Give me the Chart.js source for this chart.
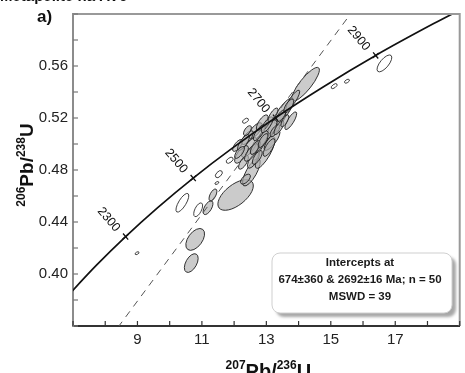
<!DOCTYPE html>
<html>
<head>
<meta charset="utf-8">
<script src="https://cdn.jsdelivr.net/npm/chart.js@4.4.1/dist/chart.umd.min.js"></script>
<style>
  html, body { margin: 0; padding: 0; background: #fff; }
  #wrap { width: 465px; height: 373px; }
</style>
</head>
<body>
<div id="wrap"><canvas id="myChart" width="465" height="373"></canvas></div>
<script>
// concordia curve (207Pb/235U, 206Pb/238U)
const concordiaAge = [2050, 2100, 2200, 2300, 2400, 2500, 2600, 2700, 2800, 2900, 3000, 3050];
const concordiaX = [6.530, 6.911, 7.729, 8.633, 9.629, 10.730, 11.944, 13.284, 14.762, 16.392, 18.194, 19.161];
const concordiaY = [0.3744, 0.3851, 0.4068, 0.4288, 0.4511, 0.4738, 0.4968, 0.5202, 0.5439, 0.5681, 0.5926, 0.6050];

// age ticks on the concordia
const ageMarks = ['2300', '2500', '2700', '2900'];
const ageMarkX = [8.633, 10.730, 13.284, 16.392];
const ageMarkY = [0.4288, 0.4738, 0.5202, 0.5681];

// discordia (lower intercept -> beyond upper intercept)
const discordiaX = [0.942, 16.0];
const discordiaY = [0.110, 0.613];

// grey error ellipses: centre, half-width (x), half-height (y), correlation
const greyX   = [14.217, 12.046, 12.535, 10.792, 10.670, 11.190, 11.343, 12.352, 13.544, 13.330, 13.820, 13.024, 12.780, 12.474, 12.229, 12.963, 12.657, 13.177, 12.413, 12.107, 12.872, 13.453, 13.697, 13.758, 12.596, 12.291, 13.269,
                 12.291, 12.535, 12.780, 13.024, 13.208, 12.657, 12.902, 12.413, 12.168, 13.391, 13.575, 13.086, 12.719];
const greyY   = [0.5460, 0.4608, 0.4783, 0.4266, 0.4084, 0.4510, 0.4608, 0.4730, 0.5255, 0.5163, 0.5338, 0.5087, 0.5011, 0.4973, 0.4920, 0.4935, 0.5103, 0.5027, 0.5049, 0.4989, 0.5163, 0.5217, 0.5293, 0.5179, 0.4875, 0.4859, 0.5103,
                 0.5011, 0.4935, 0.5087, 0.5148, 0.5224, 0.4973, 0.5027, 0.5103, 0.4935, 0.5125, 0.5179, 0.4973, 0.4897];
const greySX  = [0.428, 0.550, 0.275, 0.291, 0.214, 0.153, 0.122, 0.153, 0.306, 0.275, 0.214, 0.306, 0.275, 0.245, 0.214, 0.306, 0.214, 0.245, 0.183, 0.153, 0.183, 0.153, 0.153, 0.183, 0.183, 0.153, 0.153,
                 0.183, 0.214, 0.183, 0.183, 0.153, 0.153, 0.153, 0.122, 0.153, 0.153, 0.122, 0.183, 0.153];
const greySY  = [0.0129, 0.0118, 0.0106, 0.0084, 0.0072, 0.0053, 0.0046, 0.0038, 0.0099, 0.0084, 0.0076, 0.0099, 0.0091, 0.0076, 0.0068, 0.0122, 0.0061, 0.0076, 0.0053, 0.0046, 0.0061, 0.0046, 0.0053, 0.0068, 0.0061, 0.0053, 0.0046,
                 0.0061, 0.0068, 0.0061, 0.0061, 0.0053, 0.0053, 0.0053, 0.0038, 0.0046, 0.0053, 0.0046, 0.0068, 0.0053];
const greyRho = [0.85, 0.60, 0.75, 0.50, 0.50, 0.60, 0.60, 0.60, 0.80, 0.80, 0.85, 0.80, 0.80, 0.75, 0.70, 0.80, 0.70, 0.80, 0.70, 0.70, 0.70, 0.70, 0.70, 0.80, 0.70, 0.70, 0.70,
                 0.75, 0.75, 0.75, 0.75, 0.75, 0.70, 0.70, 0.60, 0.70, 0.75, 0.70, 0.75, 0.70];

// open (unfilled) ellipses
const openX   = [15.104, 15.502, 16.664, 10.394, 10.884, 11.862, 11.526, 12.352, 8.988, 11.465];
const openY   = [0.5445, 0.5483, 0.5620, 0.4548, 0.4494, 0.4875, 0.4768, 0.5179, 0.4160, 0.4700];
const openSX  = [0.092, 0.076, 0.229, 0.199, 0.138, 0.107, 0.107, 0.092, 0.061, 0.061];
const openSY  = [0.0019, 0.0015, 0.0065, 0.0072, 0.0053, 0.0023, 0.0027, 0.0019, 0.0011, 0.0011];
const openRho = [0.6, 0.5, 0.7, 0.75, 0.6, 0.5, 0.5, 0.5, 0.5, 0.5];

const xTickLabels = [9, 11, 13, 15, 17];
const yTickLabels = ['0.40', '0.44', '0.48', '0.52', '0.56'];

const boxLines = ['Intercepts at', '674\u00b1360 & 2692\u00b116 Ma; n = 50', 'MSWD = 39'];

Chart.defaults.font.family = '"Liberation Sans", Arial, sans-serif';

function toPoints(xs, ys) {
  return xs.map((v, i) => ({ x: v, y: ys[i] }));
}

function drawEllipses(chart, xs, ys, sxs, sys, rhos, fill, stroke) {
  const { ctx, scales: { x, y } } = chart;
  for (let i = 0; i < xs.length; i++) {
    const cx = x.getPixelForValue(xs[i]);
    const cy = y.getPixelForValue(ys[i]);
    const a = Math.abs(x.getPixelForValue(xs[i] + sxs[i]) - cx);
    const b = Math.abs(y.getPixelForValue(ys[i] + sys[i]) - cy);
    const cxy = -rhos[i] * a * b; // screen y points down
    const m = (a * a + b * b) / 2;
    const d = Math.sqrt(Math.pow((a * a - b * b) / 2, 2) + cxy * cxy);
    const r1 = Math.sqrt(m + d);
    const r2 = Math.sqrt(Math.max(m - d, 0.4));
    const th = 0.5 * Math.atan2(2 * cxy, a * a - b * b);
    ctx.beginPath();
    ctx.ellipse(cx, cy, r1, r2, th, 0, Math.PI * 2);
    ctx.fillStyle = fill;
    ctx.fill();
    ctx.strokeStyle = stroke;
    ctx.lineWidth = 1;
    ctx.stroke();
  }
}

const ellipsePlugin = {
  id: 'ellipses',
  beforeDatasetsDraw(chart) {
    const { ctx, chartArea } = chart;
    ctx.save();
    ctx.beginPath();
    ctx.rect(chartArea.left, chartArea.top, chartArea.right - chartArea.left, chartArea.bottom - chartArea.top);
    ctx.clip();
    drawEllipses(chart, greyX, greyY, greySX, greySY, greyRho, 'rgba(175,175,175,0.65)', 'rgba(30,30,30,0.9)');
    drawEllipses(chart, openX, openY, openSX, openSY, openRho, 'rgba(255,255,255,0.9)', 'rgba(45,45,45,0.9)');
    ctx.restore();
  }
};

const decorPlugin = {
  id: 'decor',
  afterDatasetsDraw(chart) {
    const { ctx, scales: { x, y } } = chart;
    // age labels on concordia
    ctx.save();
    ctx.fillStyle = '#111';
    ctx.font = '12.5px "Liberation Sans", Arial, sans-serif';
    ctx.textAlign = 'center';
    ctx.textBaseline = 'middle';
    ageMarks.forEach((t, i) => {
      const px = x.getPixelForValue(ageMarkX[i]);
      const py = y.getPixelForValue(ageMarkY[i]);
      ctx.save();
      ctx.translate(px - 17, py - 17);
      ctx.rotate(50 * Math.PI / 180);
      ctx.fillText(t, 0, 0);
      ctx.restore();
    });
    ctx.restore();

    // intercept box
    ctx.save();
    const bx = 272, by = 253, bw = 180, bh = 60;
    ctx.shadowColor = 'rgba(0,0,0,0.35)';
    ctx.shadowBlur = 3;
    ctx.shadowOffsetX = 4;
    ctx.shadowOffsetY = 4;
    ctx.beginPath();
    ctx.roundRect(bx, by, bw, bh, 8);
    ctx.fillStyle = '#fff';
    ctx.fill();
    ctx.shadowColor = 'transparent';
    ctx.strokeStyle = '#cfcfcf';
    ctx.lineWidth = 1;
    ctx.stroke();
    ctx.fillStyle = '#1a1a1a';
    ctx.font = 'bold 11.5px "Liberation Sans", Arial, sans-serif';
    ctx.textAlign = 'center';
    ctx.textBaseline = 'middle';
    ctx.fillText(boxLines[0], bx + bw / 2 - 2, 263);
    ctx.fillText(boxLines[1], bx + bw / 2 - 2, 280);
    ctx.fillText(boxLines[2], bx + bw / 2 - 2, 297);
    ctx.restore();
  },
  afterDraw(chart) {
    const { ctx, chartArea, scales: { x, y } } = chart;
    ctx.save();
    // top and right frame
    ctx.strokeStyle = '#999';
    ctx.lineWidth = 2;
    ctx.beginPath();
    ctx.moveTo(chartArea.left, chartArea.top);
    ctx.lineTo(chartArea.right, chartArea.top);
    ctx.lineTo(chartArea.right, chartArea.bottom);
    ctx.stroke();
    // inward ticks
    ctx.lineWidth = 1.2;
    ctx.strokeStyle = '#333';
    x.ticks.forEach(t => {
      const px = x.getPixelForValue(t.value);
      ctx.beginPath();
      ctx.moveTo(px, chartArea.bottom);
      ctx.lineTo(px, chartArea.bottom - 5);
      ctx.stroke();
    });
    ctx.strokeStyle = '#777';
    y.ticks.forEach(t => {
      const py = y.getPixelForValue(t.value);
      ctx.beginPath();
      ctx.moveTo(chartArea.left, py);
      ctx.lineTo(chartArea.left + 5, py);
      ctx.stroke();
    });
    ctx.restore();

    // axis titles with superscripts
    ctx.save();
    ctx.fillStyle = '#111';
    ctx.textBaseline = 'alphabetic';
    const sup = 'bold 12px "Liberation Sans", Arial, sans-serif';
    const big = 'bold 20px "Liberation Sans", Arial, sans-serif';
    function title(parts, cx, base) {
      let w = 0;
      parts.forEach(p => { ctx.font = p[1]; w += ctx.measureText(p[0]).width; });
      let cur = cx - w / 2;
      parts.forEach(p => {
        ctx.font = p[1];
        ctx.fillText(p[0], cur, base + p[2]);
        cur += ctx.measureText(p[0]).width;
      });
    }
    title([['207', sup, -9], ['Pb/', big, 0], ['236', sup, -9], ['U', big, 0]], (chartArea.left + chartArea.right) / 2 + 2, 378);
    ctx.save();
    ctx.translate(33, 165);
    ctx.rotate(-Math.PI / 2);
    title([['206', sup, -8], ['Pb/', 'bold 19px "Liberation Sans", Arial, sans-serif', 0], ['238', sup, -8], ['U', 'bold 19px "Liberation Sans", Arial, sans-serif', 0]], 0, 0);
    ctx.restore();

    ctx.font = 'bold 17px "Liberation Sans", Arial, sans-serif';
    ctx.fillText('a)', 37, 22);
    ctx.font = 'bold 15px "Liberation Sans", Arial, sans-serif';
    ctx.fillText('Metapelite na AV6', 0, 1);
    ctx.restore();
  }
};

const ctx = document.getElementById('myChart');

new Chart(ctx, {
  type: 'scatter',
  data: {
    datasets: [
      {
        label: 'Concordia',
        data: toPoints(concordiaX, concordiaY),
        showLine: true,
        borderColor: '#111',
        borderWidth: 1.7,
        pointRadius: 0,
        cubicInterpolationMode: 'monotone'
      },
      {
        label: 'Discordia',
        data: toPoints(discordiaX, discordiaY),
        showLine: true,
        borderColor: '#555',
        borderWidth: 1,
        borderDash: [7, 6],
        pointRadius: 0
      },
      {
        label: 'Ages',
        data: toPoints(ageMarkX, ageMarkY),
        showLine: false,
        pointStyle: 'cross',
        pointRadius: 4,
        rotation: -40,
        borderColor: '#111',
        borderWidth: 1.3
      }
    ]
  },
  options: {
    responsive: false,
    animation: false,
    layout: { padding: { top: 10, right: 3, left: 0, bottom: 0 } },
    plugins: {
      legend: { display: false },
      tooltip: { enabled: false }
    },
    scales: {
      x: {
        type: 'linear',
        min: 7,
        max: 19,
        afterFit(scale) { scale.height = 47; },
        ticks: {
          stepSize: 1,
          autoSkip: false,
          maxRotation: 0,
          padding: 5,
          color: '#222',
          font: { size: 15 },
          callback: v => xTickLabels.includes(v) ? String(v) : ''
        },
        grid: { display: false, drawTicks: false },
        border: { display: true, color: '#333', width: 2 }
      },
      y: {
        type: 'linear',
        min: 0.36,
        max: 0.60,
        afterFit(scale) { scale.width = 73; },
        ticks: {
          stepSize: 0.02,
          autoSkip: false,
          padding: 5,
          color: '#222',
          font: { size: 15 },
          callback: v => {
            const s = v.toFixed(2);
            return yTickLabels.includes(s) ? s : '';
          }
        },
        grid: { display: false, drawTicks: false },
        border: { display: true, color: '#8c8c8c', width: 2 }
      }
    }
  },
  plugins: [ellipsePlugin, decorPlugin]
});
</script>
</body>
</html>
